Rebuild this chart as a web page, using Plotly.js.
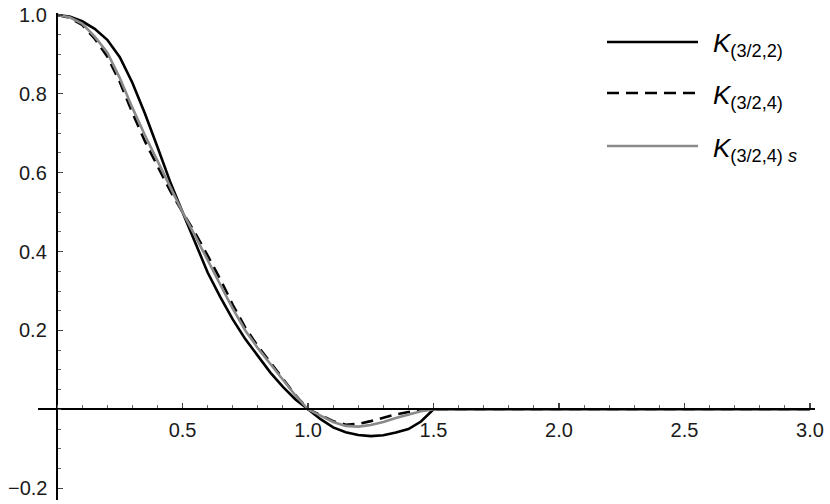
<!DOCTYPE html>
<html>
<head>
<meta charset="utf-8">
<script src="https://cdn.plot.ly/plotly-3.0.1.min.js"></script>
<style>html,body{margin:0;padding:0;background:#fff;}#chart{width:830px;height:504px;}</style>
</head>
<body>
<div id="chart"></div>
<script>
// Sample positions (x)
const xs = [0, 0.05, 0.10, 0.15, 0.20, 0.25, 0.30, 0.35, 0.40, 0.45, 0.50,
            0.55, 0.60, 0.65, 0.70, 0.75, 0.80, 0.85, 0.90, 0.95, 1.00,
            1.05, 1.10, 1.15, 1.20, 1.25, 1.30, 1.35, 1.40, 1.45, 1.50, 3.00];

// K_(3/2,2) — solid black
const k322 = [1.000, 0.996, 0.984, 0.965, 0.937, 0.893, 0.828, 0.750, 0.665, 0.578, 0.500,
              0.425, 0.347, 0.285, 0.228, 0.178, 0.135, 0.093, 0.057, 0.025, 0.000,
              -0.025, -0.046, -0.058, -0.065, -0.068, -0.066, -0.059, -0.050, -0.031, 0.000, 0.000];

// K_(3/2,4) — dashed black
const k324 = [1.000, 0.993, 0.975, 0.940, 0.895, 0.830, 0.752, 0.680, 0.617, 0.555, 0.500,
              0.447, 0.390, 0.330, 0.265, 0.207, 0.160, 0.118, 0.077, 0.036, 0.000,
              -0.015, -0.030, -0.039, -0.037, -0.030, -0.021, -0.013, -0.007, -0.002, 0.000, 0.000];

// K_(3/2,4) s — solid grey
const k324s = [1.000, 0.994, 0.978, 0.945, 0.905, 0.840, 0.765, 0.695, 0.630, 0.565, 0.500,
               0.440, 0.378, 0.315, 0.255, 0.200, 0.155, 0.115, 0.075, 0.035, 0.000,
               -0.016, -0.032, -0.042, -0.044, -0.040, -0.032, -0.022, -0.013, -0.005, 0.000, 0.000];

const xTicks = [0.5, 1.0, 1.5, 2.0, 2.5, 3.0];
const xTickText = ["0.5", "1.0", "1.5", "2.0", "2.5", "3.0"];
const yTicks = [-0.2, 0.2, 0.4, 0.6, 0.8, 1.0];
const yTickText = ["\u22120.2", "0.2", "0.4", "0.6", "0.8", "1.0"];

const seriesNames = ["<i>K</i><sub>(3/2,2)</sub>", "<i>K</i><sub>(3/2,4)</sub>", "<i>K</i><sub>(3/2,4) <i>s</i></sub>"];

const xRange = [-0.076, 3.02];
const yRange = [-0.23, 1.005];

const styles = [
  {color: '#000000', width: 2.6, dash: 'solid'},
  {color: '#000000', width: 2.6, dash: '12px,7px'},
  {color: '#8a8a8a', width: 2.6, dash: 'solid'}
];
const ys = [k322, k324, k324s];

const traces = ys.map((y, i) => ({
  x: xs, y: y, type: 'scatter', mode: 'lines', name: seriesNames[i],
  line: {color: styles[i].color, width: styles[i].width, dash: styles[i].dash, shape: 'linear'},
  showlegend: false, hoverinfo: 'skip'
}));

// custom legend (pixel positions converted to paper coords)
const L = 38, T = 13, W = 777, H = 487;
const px2x = p => (p - L) / W;
const py2y = p => (T + H - p) / H;
const legY = [42, 93, 146];
const shapes = [], annotations = [];
legY.forEach((py, i) => {
  shapes.push({type: 'line', xref: 'paper', yref: 'paper', x0: px2x(607), x1: px2x(698), y0: py2y(py), y1: py2y(py),
    line: {color: styles[i].color, width: styles[i].width, dash: styles[i].dash}});
  annotations.push({xref: 'paper', yref: 'paper', x: px2x(711), y: py2y(py + 3), xanchor: 'left', yanchor: 'middle',
    text: seriesNames[i], showarrow: false, font: {family: 'Liberation Sans, Arial, sans-serif', size: 26, color: '#000'}});
});

const tickFont = {family: 'Liberation Sans, Arial, sans-serif', size: 20, color: '#1a1a1a'};

// y tick labels placed next to the axis at x = 0
yTicks.forEach((v, i) => {
  annotations.push({xref: 'paper', yref: 'y', x: px2x(48), y: v, xanchor: 'right', yanchor: 'middle',
    text: yTickText[i], showarrow: false, font: tickFont, borderpad: 0});
});

const layout = {
  width: 830, height: 504,
  margin: {l: L, r: 830 - L - W, t: T, b: 504 - T - H, pad: 0},
  paper_bgcolor: '#fff', plot_bgcolor: '#fff',
  showlegend: false,
  xaxis: {
    range: xRange, anchor: 'free', position: (0 - yRange[0]) / (yRange[1] - yRange[0]),
    showgrid: false, zeroline: false, showline: true, linecolor: '#000', linewidth: 2,
    tickmode: 'array', tickvals: xTicks, ticktext: xTickText,
    ticks: 'inside', ticklen: 5, tickwidth: 1.2, tickcolor: '#444',
    ticklabelstandoff: 3,
    minor: {dtick: 0.1, tick0: 0, ticks: 'inside', ticklen: 3, tickwidth: 1, tickcolor: '#666', showgrid: false},
    tickfont: tickFont, fixedrange: true
  },
  yaxis: {
    range: yRange, anchor: 'free', position: (0 - xRange[0]) / (xRange[1] - xRange[0]),
    showgrid: false, zeroline: false, showline: true, linecolor: '#000', linewidth: 2,
    tickmode: 'array', tickvals: yTicks, ticktext: yTickText, showticklabels: false,
    ticks: 'inside', ticklen: 5, tickwidth: 1.2, tickcolor: '#444',
    minor: {dtick: 0.05, tick0: 0, ticks: 'inside', ticklen: 3, tickwidth: 1, tickcolor: '#666', showgrid: false},
    tickfont: tickFont, fixedrange: true
  },
  shapes: shapes,
  annotations: annotations
};

Plotly.newPlot('chart', traces, layout, {staticPlot: true, displayModeBar: false});
</script>
</body>
</html>
